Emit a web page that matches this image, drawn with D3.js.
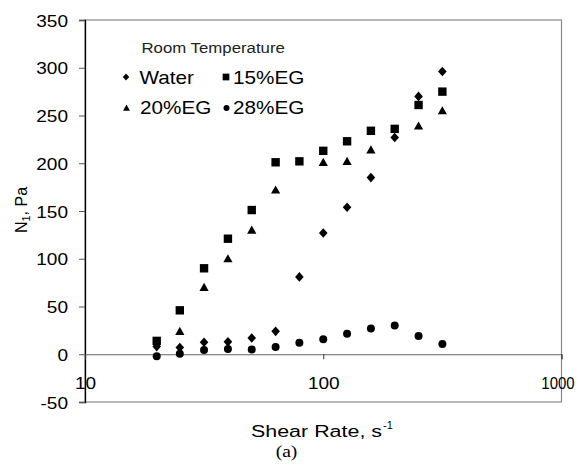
<!DOCTYPE html>
<html><head><meta charset="utf-8">
<script src="https://cdn.jsdelivr.net/npm/d3@7"></script>
<style>body{margin:0;background:#fff}svg{display:block}text{font-family:"Liberation Sans",Arial,sans-serif}</style>
</head><body>
<script>
const shearRate = [20, 25, 31.6, 39.8, 50.1, 63.1, 79.4, 100, 125.9, 158.5, 199.5, 251.2, 316.2];
const water = [8, 7, 12.5, 13, 17, 24, 81, 127, 154, 185, 227, 270, 296];
const eg15 = [14, 46, 90, 121, 151, 201, 202, 213, 223, 234, 236, 261, 275];
const eg20 = [null, 24, 70, 100, 130, 172, null, 201, 202, 214, null, 239, 255];
const eg28 = [-2, 0.5, 4.5, 5.5, 5, 7.5, 12, 15.6, 21.5, 27, 30, 19, 10.7];
const seriesNames = ["Water", "15%EG", "20%EG", "28%EG"];
const xTicks = [10, 100, 1000];
const yTicks = [-50, 0, 50, 100, 150, 200, 250, 300, 350];

const W = 581, H = 470, SX = 1.12;
const svg = d3.select("body").append("svg").attr("width", W).attr("height", H);
const x = d3.scaleLog().domain([10, 1000]).range([85, 561.5]);
const y = d3.scaleLinear().domain([-50, 350]).range([402, 20]);

// plot frame
svg.append("rect").attr("x", 85).attr("y", 20).attr("width", 476.5).attr("height", 382)
  .attr("fill", "none").attr("stroke", "#8a8a8a").attr("stroke-width", 1.2);

// y axis
const yAx = svg.append("g").attr("transform", "translate(85,0)")
  .call(d3.axisLeft(y).tickValues(yTicks).tickSize(6).tickPadding(11).tickFormat(d => String(d)));
yAx.select(".domain").attr("stroke", "#000").attr("stroke-width", 1.3);
yAx.selectAll(".tick line").attr("stroke", "#555");
yAx.selectAll(".tick text").attr("x", 0).attr("dy", "0.36em")
  .attr("transform", "translate(-17,0) scale(" + SX + ",1)")
  .attr("font-size", 17).attr("fill", "#000");

// x axis at y=0
const xAx = svg.append("g").attr("transform", "translate(0," + y(0) + ")")
  .call(d3.axisBottom(x).tickValues(xTicks).tickSize(5).tickPadding(18).tickFormat(d => String(d)));
xAx.select(".domain").attr("stroke", "#666").attr("stroke-width", 1.2);
xAx.selectAll(".tick line").attr("stroke", "#333");
xAx.selectAll(".tick text")
  .attr("transform", d => d === 1000 ? "translate(-4,0) scale(0.88,1)" : "scale(" + SX + ",1)")
  .attr("font-size", 17).attr("fill", "#000");

// marker shapes
const diamondType = { draw(ctx, size) { const w = 4.3, h = 4.8; ctx.moveTo(0, -h); ctx.lineTo(w, 0); ctx.lineTo(0, h); ctx.lineTo(-w, 0); ctx.closePath(); } };
const squareType = { draw(ctx, size) { const s = 4.2; ctx.rect(-s, -s, 2 * s, 2 * s); } };
const triType = { draw(ctx, size) { ctx.moveTo(0, -4.6); ctx.lineTo(4.6, 3.6); ctx.lineTo(-4.6, 3.6); ctx.closePath(); } };
const circType = { draw(ctx, size) { ctx.moveTo(4, 0); ctx.arc(0, 0, 4, 0, 2 * Math.PI); } };
const types = [diamondType, squareType, triType, circType];
const allSeries = [water, eg15, eg20, eg28];

allSeries.forEach((vals, i) => {
  const pts = shearRate.map((s, j) => ({ s, v: vals[j] })).filter(d => d.v !== null);
  svg.append("g").selectAll("path").data(pts).join("path")
    .attr("d", d3.symbol().type(types[i]))
    .attr("transform", d => "translate(" + x(d.s) + "," + y(d.v) + ")")
    .attr("fill", "#000");
});

// legend
svg.append("text").attr("transform", "translate(141.5,52.5) scale(" + SX + ",1)")
  .attr("font-size", 15).attr("fill", "#222").text("Room Temperature");
const legPos = [[126, 77, 139.5, 83.5], [226, 77, 233, 83.5], [126.5, 108, 140, 113.5], [226.5, 108, 233, 113.5]];
const legScale = [0.75, 0.8, 0.75, 0.75];
seriesNames.forEach((n, i) => {
  const p = legPos[i];
  svg.append("path").attr("d", d3.symbol().type(types[i]))
    .attr("transform", "translate(" + p[0] + "," + p[1] + ") scale(" + legScale[i] + ")").attr("fill", "#000");
  svg.append("text").attr("transform", "translate(" + p[2] + "," + p[3] + ") scale(1.15,1)")
    .attr("font-size", 18).attr("fill", "#000").text(n);
});

// axis titles
svg.append("text").attr("x", 251).attr("y", 437).attr("font-size", 16)
  .attr("textLength", 131).attr("lengthAdjust", "spacingAndGlyphs").text("Shear Rate, s");
svg.append("text").attr("x", 383).attr("y", 429).attr("font-size", 11).text("-1");
const yt = svg.append("text").attr("transform", "translate(26.5,210) rotate(-90)")
  .attr("text-anchor", "middle").attr("font-size", 16);
yt.append("tspan").text("N");
yt.append("tspan").attr("font-size", 11).attr("dy", 3).text("1");
yt.append("tspan").attr("dy", -3).text(", Pa");

svg.append("text").attr("transform", "translate(286.5,456.5) scale(1.15,1)").attr("text-anchor", "middle")
  .style("font-family", "'Liberation Serif', 'Times New Roman', serif")
  .attr("font-size", 17).text("(a)");
</script>
</body></html>
